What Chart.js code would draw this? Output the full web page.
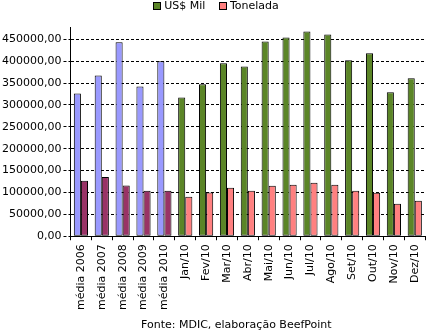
<!DOCTYPE html>
<html>
<head>
<meta charset="utf-8">
<script src="https://cdn.jsdelivr.net/npm/chart.js@4"></script>
<style>
  html, body { margin: 0; padding: 0; background: #fff; }
  #wrap { position: relative; width: 432px; height: 330px; font-family: "DejaVu Sans", Verdana, sans-serif; }
  #legend { position: absolute; top: 0; left: 0; width: 432px; text-align: center; font-size: 11px; line-height: 12px; color: #000; }
  #legend span.item { display: inline-block; margin: 0 5px; }
  #legend i { display: inline-block; width: 6px; height: 6px; border: 1px solid #000; margin-right: 3px; vertical-align: -1px; }
  #footer { position: absolute; top: 318px; left: 141px; font-size: 11px; color: #000; white-space: nowrap; }
</style>
</head>
<body>
<div id="wrap">
  <canvas id="chart" width="432" height="330"></canvas>
  <div id="legend"></div>
  <div id="footer">Fonte: MDIC, elaboração BeefPoint</div>
</div>
<script>
// ---- data -----------------------------------------------------------
const categories = [
  "média 2006", "média 2007", "média 2008", "média 2009", "média 2010",
  "Jan/10", "Fev/10", "Mar/10", "Abr/10", "Mai/10", "Jun/10",
  "Jul/10", "Ago/10", "Set/10", "Out/10", "Nov/10", "Dez/10",
];
const usdMil = [
  326000, 367000, 443000, 342000, 400000,
  317000, 347000, 395000, 388000, 445000, 454000,
  468000, 461000, 402000, 418000, 329000, 361000,
];
const tonelada = [
  126500, 135600, 115900, 103800, 103800,
  90200, 100000, 110600, 103800, 115200, 117400,
  122000, 117400, 103800, 99200, 74200, 81100,
];
const seriesNames = ["US$ Mil", "Tonelada"];
const yTicks = [0, 50000, 100000, 150000, 200000, 250000, 300000, 350000, 400000, 450000];
const yMax = 478000;

// ---- colours --------------------------------------------------------
const nAverages = 5; // first bars are yearly averages, drawn in other colours
const usdColors = categories.map((c, i) => (i < nAverages ? "#9999ff" : "#5b8527"));
const tonColors = categories.map((c, i) => (i < nAverages ? "#993366" : "#ff8080"));

// legend (html, keeps the month colours)
document.getElementById("legend").innerHTML = `
  <span class="item"><i style="background:#5b8527"></i>${seriesNames[0]}</span>
  <span class="item"><i style="background:#ff8080"></i>${seriesNames[1]}</span>
`;

const font = { family: "'DejaVu Sans', Verdana, sans-serif", size: 11 };

new Chart(document.getElementById("chart"), {
  type: "bar",
  data: {
    labels: categories,
    datasets: [
      { label: seriesNames[0], data: usdMil, backgroundColor: usdColors, borderColor: "#000", borderWidth: 1, borderSkipped: false },
      { label: seriesNames[1], data: tonelada, backgroundColor: tonColors, borderColor: "#000", borderWidth: 1, borderSkipped: false },
    ],
  },
  options: {
    responsive: false,
    animation: false,
    layout: { padding: { top: 27, right: 1, bottom: 16, left: 0 } },
    datasets: { bar: { categoryPercentage: 0.68, barPercentage: 1.0 } },
    plugins: { legend: { display: false }, tooltip: { enabled: false } },
    scales: {
      x: {
        grid: { drawOnChartArea: false, color: "#000", tickLength: 4, offset: true },
        border: { color: "#000" },
        ticks: { color: "#000", font, maxRotation: 90, minRotation: 90, padding: 4, autoSkip: false },
      },
      y: {
        min: 0,
        max: yMax,
        afterBuildTicks: (axis) => {
          axis.ticks = yTicks.map((v) => ({ value: v }));
        },
        grid: { color: "#000", tickLength: 7, tickBorderDash: [3, 2] },
        border: { color: "#000", dash: [3, 2] },
        ticks: {
          color: "#000",
          font,
          padding: 2,
          autoSkip: false,
          callback: (v) => v + ",00",
        },
      },
    },
  },
});
</script>
</body>
</html>
